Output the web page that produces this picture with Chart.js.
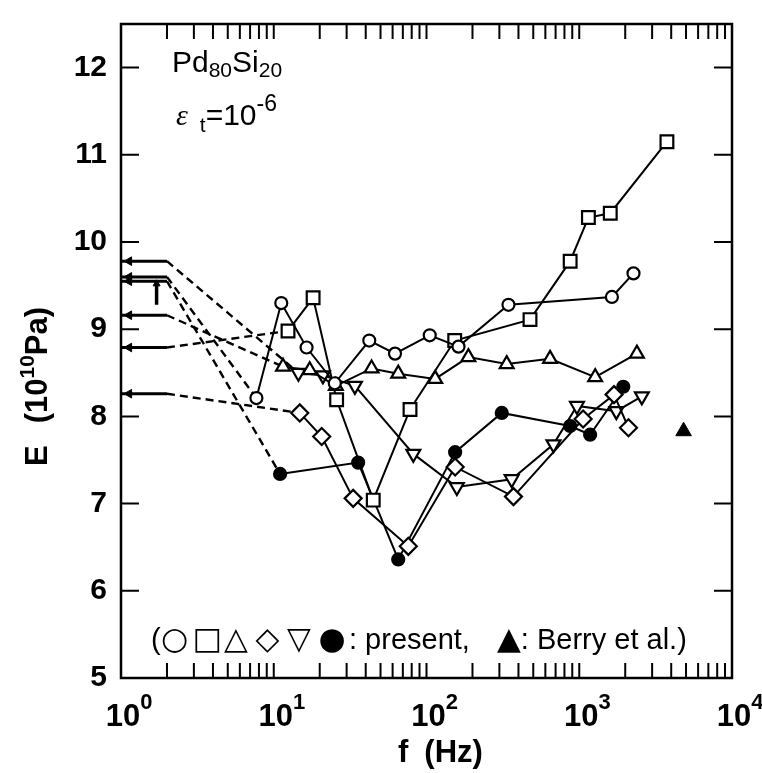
<!DOCTYPE html>
<html>
<head>
<meta charset="utf-8">
<script src="https://cdn.jsdelivr.net/npm/chart.js@4.4.0/dist/chart.umd.min.js"></script>
<style>
  html, body { margin: 0; padding: 0; background: #fff; }
</style>
</head>
<body>
<canvas id="c" width="762" height="773"></canvas>
<script>
"use strict";

// values: f in Hz, E in 10^10 Pa
var circleF   = [7.7, 11.2, 16.4, 25.1, 42.2, 62.2, 105, 162, 344, 1636, 2265];
var circleE   = [8.21, 9.30, 8.79, 8.38, 8.87, 8.72, 8.93, 8.80, 9.28, 9.37, 9.64];
var squareF   = [12.4, 18.1, 25.8, 44.8, 78, 153, 476, 872, 1148, 1596, 3750];
var squareE   = [8.98, 9.36, 8.19, 7.04, 8.08, 8.87, 9.11, 9.78, 10.28, 10.33, 11.15];
var triF      = [11.5, 17.2, 25.5, 43.7, 65.3, 114, 188, 335, 644, 1271, 2384];
var triE      = [8.57, 8.53, 8.35, 8.55, 8.49, 8.43, 8.68, 8.60, 8.66, 8.45, 8.72];
var diamondF  = [14.8, 20.6, 33.1, 76, 154, 371, 1060, 1690, 2100];
var diamondE  = [8.04, 7.77, 7.06, 6.51, 7.42, 7.08, 7.97, 8.25, 7.87];
var invTriF   = [14.5, 21, 34, 82, 158, 361, 678, 966, 1750, 2570];
var invTriE   = [8.50, 8.47, 8.35, 7.57, 7.19, 7.28, 7.68, 8.12, 8.06, 8.23];
var filledF   = [11.0, 35.7, 65.3, 154, 311, 872, 1178, 1942];
var filledE   = [7.34, 7.47, 6.36, 7.59, 8.04, 7.89, 7.79, 8.34];
var berryF    = [4820];
var berryE    = [7.83];

// static-limit arrows on the left, and which series each dashed line joins
var arrowLevels  = [9.78, 9.60, 9.55, 9.16, 8.79, 8.26];
var arrowTargets = ['invTri', 'circle', 'filled', 'tri', 'square', 'diamond'];
var arrowStartF  = 1;
var arrowHeadF   = 1.13;
var arrowEndF    = 2;
var upArrowF     = [1.71, 1.71];
var upArrowE     = [9.28, 9.52];

var yTicks = [5, 6, 7, 8, 9, 10, 11, 12];
var xDecades = [0, 1, 2, 3, 4];
var keySymbols = ['\u25cb', '\u25a1', '\u25b3', '\u25c7', '\u25bd', '\u25cf'];

function pts(fs, es) {
    return fs.map(function (f, i) { return {x: f, y: es[i]}; });
}

var series = {
    circle:  {f: circleF,  e: circleE,  style: 'circle',   r: 6,   rot: 0,   fill: '#fff'},
    square:  {f: squareF,  e: squareE,  style: 'rect',     r: 9,   rot: 0,   fill: '#fff'},
    tri:     {f: triF,     e: triE,     style: 'triangle', r: 8,   rot: 0,   fill: '#fff'},
    diamond: {f: diamondF, e: diamondE, style: 'rectRot',  r: 8.5, rot: 0,   fill: '#fff'},
    invTri:  {f: invTriF,  e: invTriE,  style: 'triangle', r: 8,   rot: 180, fill: '#fff'},
    filled:  {f: filledF,  e: filledE,  style: 'circle',   r: 6,   rot: 0,   fill: '#000'}
};

var datasets = [];
Object.keys(series).forEach(function (k) {
    var s = series[k];
    datasets.push({
        data: pts(s.f, s.e),
        borderColor: '#000',
        borderWidth: 2,
        pointStyle: s.style,
        pointRotation: s.rot,
        pointRadius: s.r,
        pointBackgroundColor: s.fill,
        pointBorderColor: '#000',
        pointBorderWidth: 2.2
    });
});
datasets.push({
    data: pts(berryF, berryE),
    showLine: false,
    pointStyle: 'triangle',
    pointRadius: 9,
    pointBackgroundColor: '#000',
    pointBorderColor: '#000',
    pointBorderWidth: 1
});

// dashed joins from the arrow ends to the first measured points
arrowLevels.forEach(function (lv, i) {
    var s = series[arrowTargets[i]];
    datasets.push({
        data: [{x: arrowEndF, y: lv}, {x: s.f[0], y: s.e[0]}],
        borderColor: '#000',
        borderWidth: 2.4,
        borderDash: [8, 5],
        pointRadius: 0
    });
    datasets.push({
        data: [{x: arrowStartF, y: lv}, {x: arrowHeadF, y: lv}, {x: arrowEndF, y: lv}],
        borderColor: '#000',
        borderWidth: 3,
        pointStyle: 'triangle',
        pointRotation: 270,
        pointRadius: [0, 5, 0],
        pointBackgroundColor: '#000',
        pointBorderColor: '#000',
        pointBorderWidth: 1
    });
});
datasets.push({
    data: pts(upArrowF, upArrowE),
    borderColor: '#000',
    borderWidth: 3.5,
    pointStyle: 'triangle',
    pointRadius: [0, 4],
    pointBackgroundColor: '#000',
    pointBorderColor: '#000',
    pointBorderWidth: 1
});

var FAM = '"Liberation Sans", Arial, sans-serif';
var BOLD = 'bold 31px ' + FAM;

function drawRuns(ctx, runs, x, y) {
    ctx.textAlign = 'left';
    runs.forEach(function (r) {
        ctx.font = r[1];
        ctx.fillText(r[0], x, y + r[2]);
        x += ctx.measureText(r[0]).width + (r[3] || 0);
    });
    return x;
}

var frame = {
    id: 'frame',
    afterDatasetsDraw: function (chart) {
        var ctx = chart.ctx, a = chart.chartArea;
        var xs = chart.scales.x, ys = chart.scales.y;
        ctx.save();
        ctx.strokeStyle = '#000';
        ctx.lineWidth = 2.5;
        ctx.strokeRect(a.left, a.top, a.right - a.left, a.bottom - a.top);
        ctx.lineWidth = 2;
        ctx.beginPath();
        yTicks.forEach(function (v) {
            var y = ys.getPixelForValue(v);
            ctx.moveTo(a.left, y); ctx.lineTo(a.left + 18, y);
            ctx.moveTo(a.right, y); ctx.lineTo(a.right - 18, y);
        });
        xDecades.slice(0, -1).forEach(function (d) {
            for (var k = 1; k <= 9; k++) {
                var x = xs.getPixelForValue(k * Math.pow(10, d));
                ctx.moveTo(x, a.bottom); ctx.lineTo(x, a.bottom - 15);
                ctx.moveTo(x, a.top); ctx.lineTo(x, a.top + 15);
            }
        });
        ctx.stroke();
        ctx.restore();
    },
    afterDraw: function (chart) {
        var ctx = chart.ctx, a = chart.chartArea;
        var xs = chart.scales.x;
        ctx.save();
        ctx.fillStyle = '#000';
        ctx.textBaseline = 'alphabetic';

        // x tick labels 10^n
        xDecades.forEach(function (d) {
            var x = xs.getPixelForValue(Math.pow(10, d));
            ctx.font = BOLD;
            ctx.textAlign = 'center';
            ctx.fillText('10', x + 2, a.bottom + 48);
            var w = ctx.measureText('10').width;
            ctx.font = 'bold 22px ' + FAM;
            ctx.textAlign = 'left';
            ctx.fillText(String(d), x + 2 + w / 2, a.bottom + 31);
        });

        // x title
        drawRuns(ctx, [['f', BOLD, 0, 16], ['(Hz)', BOLD, 0]], 398, 762);

        // y title, rotated
        ctx.save();
        ctx.translate(47, 466);
        ctx.rotate(-Math.PI / 2);
        drawRuns(ctx, [['E', BOLD, 0, 22], ['(10', BOLD, 0], ['10', 'bold 21px ' + FAM, -13], ['Pa)', BOLD, 0]], 0, 0);
        ctx.restore();

        // material and strain amplitude
        var REG = '30px ' + FAM;
        var SUB = '21px ' + FAM;
        drawRuns(ctx, [['Pd', REG, 0], ['80', SUB, 5], ['Si', REG, 0], ['20', SUB, 5]], 172, 72);
        drawRuns(ctx, [['\u03b5', 'italic 30px "Liberation Serif", serif', 0, 12], ['t', SUB, 7], ['=10', REG, 0], ['-6', '23px ' + FAM, -14]], 176, 125);

        // symbol key
        var SYM = '31px "DejaVu Sans", sans-serif';
        var TXT = '29px ' + FAM;
        drawRuns(ctx, [['(', TXT, 0]], 151, 649);
        keySymbols.forEach(function (s, i) {
            drawRuns(ctx, [[s, SYM, 0]], 161 + i * 31.5, 649);
        });
        drawRuns(ctx, [[': present,', TXT, 0]], 349, 649);
        drawRuns(ctx, [['\u25b2', SYM, 0], [': Berry et al.)', TXT, 0]], 497, 649);
        ctx.restore();
    }
};

new Chart(document.getElementById('c'), {
    type: 'line',
    data: {datasets: datasets},
    options: {
        responsive: false,
        animation: false,
        layout: {padding: {left: 0, right: 30, top: 15, bottom: 0}},
        plugins: {legend: {display: false}, tooltip: {enabled: false}},
        scales: {
            x: {
                type: 'logarithmic',
                min: 1,
                max: 10000,
                grid: {display: false},
                border: {display: false},
                ticks: {display: false},
                afterFit: function (s) { s.height = 95; }
            },
            y: {
                type: 'linear',
                min: 5,
                max: 12.5,
                grid: {display: false},
                border: {display: false},
                afterBuildTicks: function (s) {
                    s.ticks = yTicks.map(function (v) { return {value: v}; });
                },
                ticks: {
                    color: '#000',
                    padding: 6,
                    font: {family: FAM, size: 30, weight: 'bold'}
                },
                afterFit: function (s) { s.width = 121; }
            }
        }
    },
    plugins: [frame]
});
</script>
</body>
</html>
